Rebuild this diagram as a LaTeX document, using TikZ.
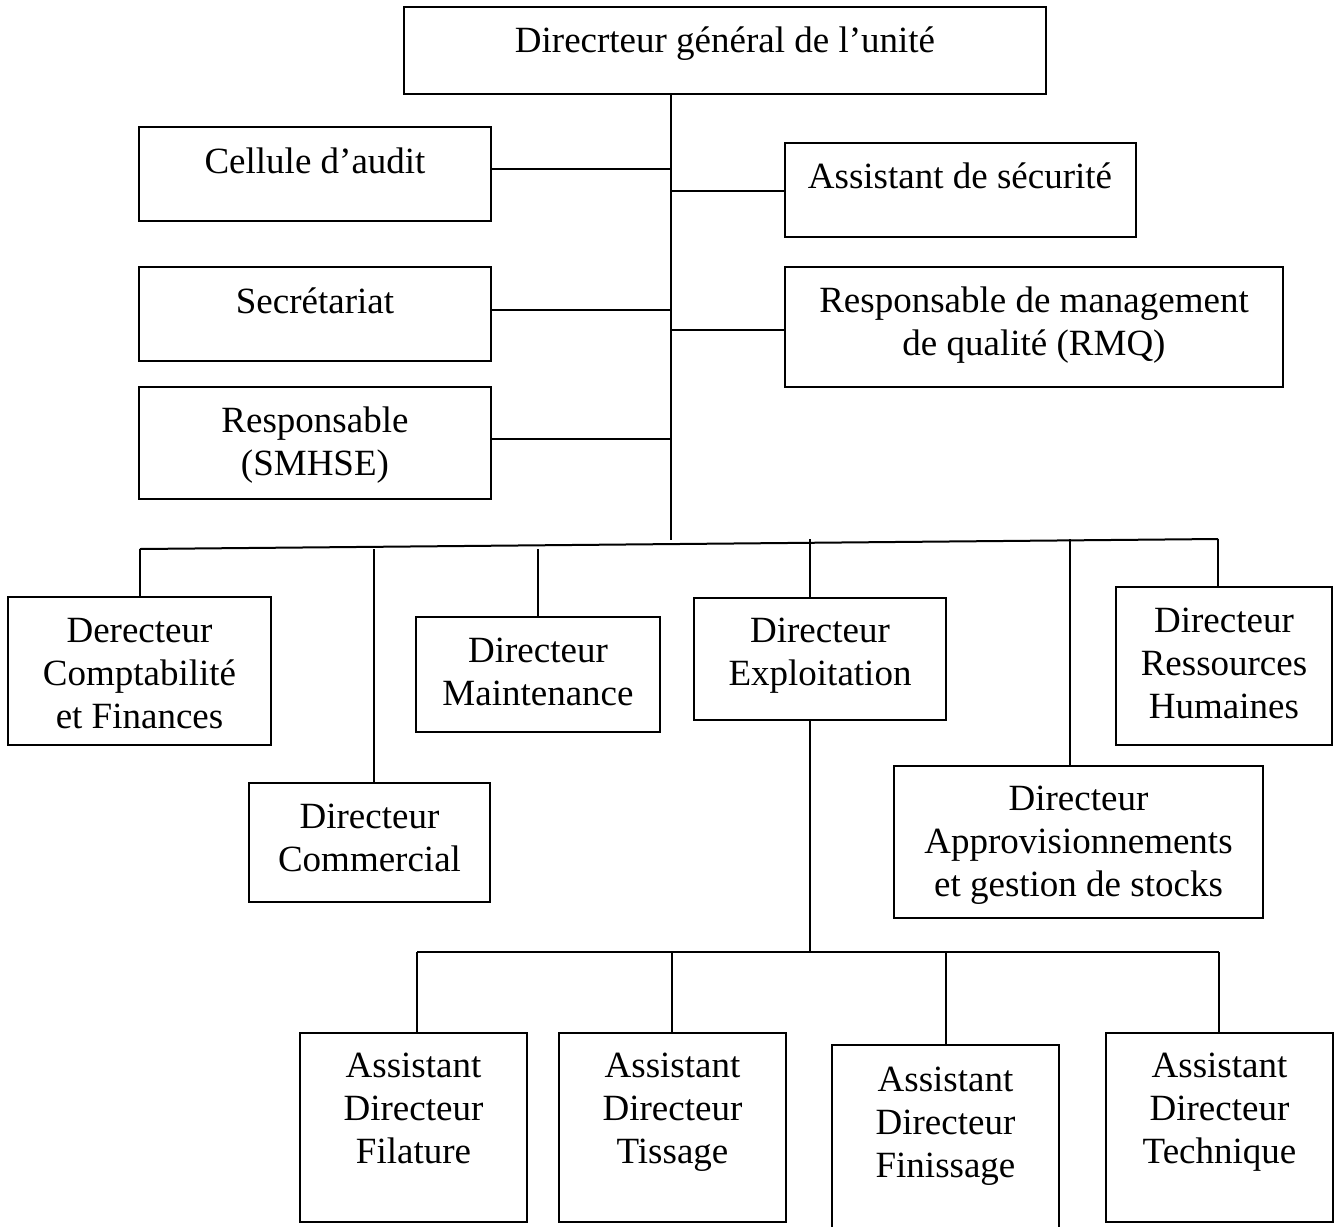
\documentclass[tikz,border=0pt]{standalone}
\usepackage{fontspec}
\setmainfont{Liberation Serif}
\newcommand\obox[5]{\node[box, minimum width={(#4-#2)*0.5pt}, minimum height={(#5-#3)*0.5pt}] (#1) at (#2,#3) {};}
\newcommand\tline[4]{\node[txt] (#1) at (#2,#3) {#4};}
\begin{document}
\begin{tikzpicture}[x=0.5pt,y=-0.5pt,
  box/.style={draw, line width=1.1pt, inner sep=0pt, outer sep=0pt, anchor=north west},
  txt/.style={anchor=base, inner sep=0pt, font=\fontsize{18.5}{21.5}\selectfont},
  conn/.style={line width=1pt}]
\useasboundingbox (0,0) rectangle (1335,1227);
\clip (0,0) rectangle (1335,1227);
% boxes
\obox{top}{404}{7}{1046}{94}
\obox{cel}{139}{127}{491}{221}
\obox{sec}{139}{267}{491}{361}
\obox{smh}{139}{387}{491}{499}
\obox{asec}{785}{143}{1136}{237}
\obox{rmq}{785}{267}{1283}{387}
\obox{dcf}{8}{597}{271}{745}
\obox{dcom}{249}{783}{490}{902}
\obox{dmai}{416}{617}{660}{732}
\obox{dexp}{694}{598}{946}{720}
\obox{dapp}{894}{766}{1263}{918}
\obox{drh}{1116}{587}{1332}{745}
\obox{afil}{300}{1033}{527}{1222}
\obox{atis}{559}{1033}{786}{1222}
\obox{afin}{832}{1045}{1059}{1245}
\obox{atec}{1106}{1033}{1333}{1222}
% texts
\tline{t0}{725}{52}{Direcrteur général de l’unité}
\tline{t1}{315}{173}{Cellule d’audit}
\tline{t2}{315}{313}{Secrétariat}
\tline{t3a}{315}{432}{Responsable}
\tline{t3b}{315}{475}{(SMHSE)}
\tline{t4}{960}{188}{Assistant de sécurité}
\tline{t5a}{1034}{312}{Responsable de management}
\tline{t5b}{1034}{355}{de qualité (RMQ)}
\tline{t6a}{139.5}{642}{Derecteur}
\tline{t6b}{139.5}{685}{Comptabilité}
\tline{t6c}{139.5}{728}{et Finances}
\tline{t7a}{369.5}{828}{Directeur}
\tline{t7b}{369.5}{871}{Commercial}
\tline{t8a}{538}{662}{Directeur}
\tline{t8b}{538}{705}{Maintenance}
\tline{t9a}{820}{642}{Directeur}
\tline{t9b}{820}{685}{Exploitation}
\tline{t10a}{1078.5}{810}{Directeur}
\tline{t10b}{1078.5}{853}{Approvisionnements}
\tline{t10c}{1078.5}{896}{et gestion de stocks}
\tline{t11a}{1224}{632}{Directeur}
\tline{t11b}{1224}{675}{Ressources}
\tline{t11c}{1224}{718}{Humaines}
\tline{t12a}{413.5}{1077}{Assistant}
\tline{t12b}{413.5}{1120}{Directeur}
\tline{t12c}{413.5}{1163}{Filature}
\tline{t13a}{672.5}{1077}{Assistant}
\tline{t13b}{672.5}{1120}{Directeur}
\tline{t13c}{672.5}{1163}{Tissage}
\tline{t14a}{945.5}{1091}{Assistant}
\tline{t14b}{945.5}{1134}{Directeur}
\tline{t14c}{945.5}{1177}{Finissage}
\tline{t15a}{1219.5}{1077}{Assistant}
\tline{t15b}{1219.5}{1120}{Directeur}
\tline{t15c}{1219.5}{1163}{Technique}
% connector points
\coordinate (mEnd) at (671,540);
\coordinate (j1) at (671,169);
\coordinate (j2) at (671,310);
\coordinate (j3) at (671,439);
\coordinate (j4) at (671,191);
\coordinate (j5) at (671,330);
\coordinate (bL) at (140,549);
\coordinate (bR) at (1218,539);
\coordinate (d2) at (374,549);
\coordinate (d3) at (538,549);
\coordinate (d4) at (810,539);
\coordinate (d5) at (1070,539);
\coordinate (sub) at (810,952);
\coordinate (sL) at (417,952);
\coordinate (sR) at (1219,952);
\coordinate (s2) at (672,952);
\coordinate (s3) at (946,952);
% connectors
\draw[conn] (mEnd |- top.south) -- (mEnd);
\draw[conn] (j1 -| cel.east) -- (j1);
\draw[conn] (j2 -| sec.east) -- (j2);
\draw[conn] (j3 -| smh.east) -- (j3);
\draw[conn] (j4) -- (j4 -| asec.west);
\draw[conn] (j5) -- (j5 -| rmq.west);
\draw[conn] (bL) -- (bR);
\draw[conn] (bL) -- (bL |- dcf.north);
\draw[conn] (d2) -- (d2 |- dcom.north);
\draw[conn] (d3) -- (d3 |- dmai.north);
\draw[conn] (d4) -- (d4 |- dexp.north);
\draw[conn] (d5) -- (d5 |- dapp.north);
\draw[conn] (bR) -- (bR |- drh.north);
\draw[conn] (sub |- dexp.south) -- (sub);
\draw[conn] (sL) -- (sR);
\draw[conn] (sL) -- (sL |- afil.north);
\draw[conn] (s2) -- (s2 |- atis.north);
\draw[conn] (s3) -- (s3 |- afin.north);
\draw[conn] (sR) -- (sR |- atec.north);
\end{tikzpicture}
\end{document}
